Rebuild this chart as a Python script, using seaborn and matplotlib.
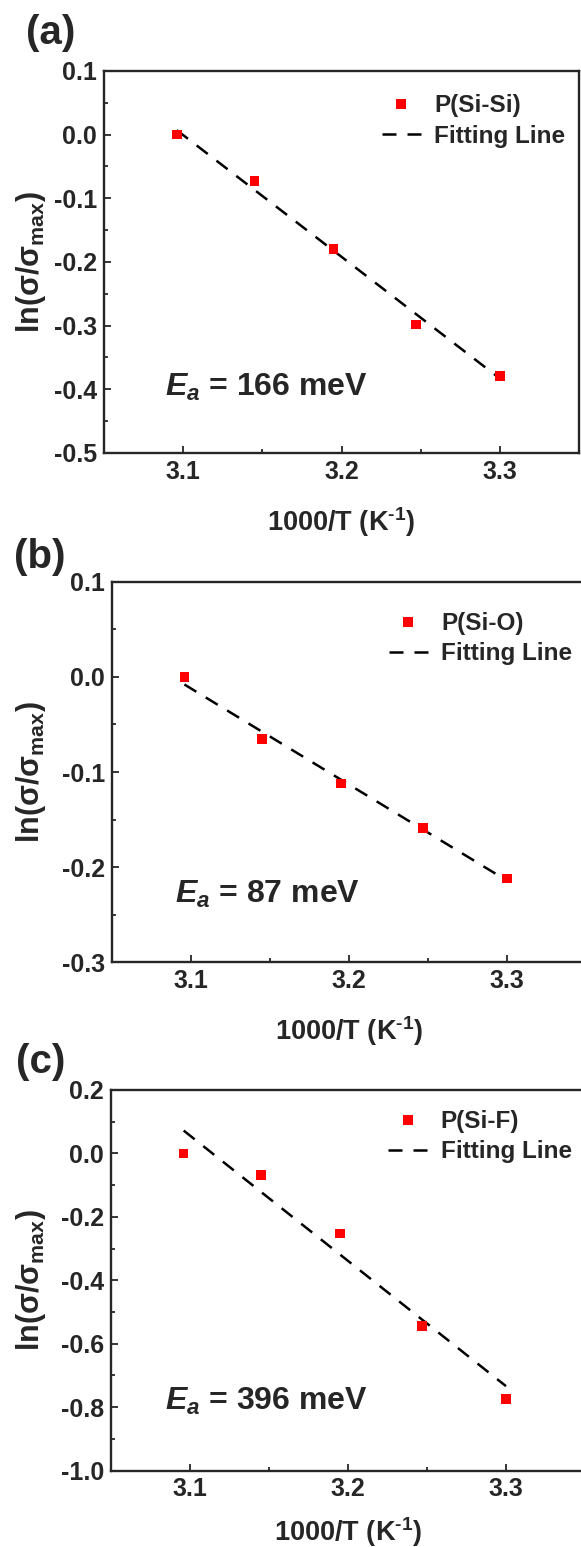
import numpy as np
import pandas as pd
import matplotlib
matplotlib.use('Agg')
import matplotlib.pyplot as plt
import seaborn as sns
from matplotlib.ticker import MultipleLocator, FormatStrFormatter
from matplotlib.lines import Line2D

# ---- data ----
inv_T = [3.096, 3.145, 3.195, 3.247, 3.300]
ln_sisi = [0.000, -0.073, -0.180, -0.298, -0.379]
ln_sio = [0.000, -0.065, -0.112, -0.159, -0.212]
ln_sif = [0.000, -0.069, -0.253, -0.544, -0.774]

fit_x = [3.096, 3.300]
fit_sisi = [0.007, -0.383]
fit_sio = [-0.008, -0.214]
fit_sif = [0.072, -0.734]

labels = ["P(Si-Si)", "P(Si-O)", "P(Si-F)"]
ea_texts = ["166", "87", "396"]
panel_tags = ["(a)", "(b)", "(c)"]
x_ticks = [3.1, 3.2, 3.3]

sns.set_style('ticks')
plt.rcParams.update({
    'font.family': ['Liberation Sans', 'DejaVu Sans'],
    'font.weight': 'bold',
    'axes.labelweight': 'bold',
    'axes.unicode_minus': False,
    'mathtext.fontset': 'custom',
    'mathtext.rm': 'Liberation Sans:bold',
    'mathtext.it': 'Liberation Sans:italic:bold',
    'mathtext.bf': 'Liberation Sans:bold',
    'axes.linewidth': 1.5,
    'xtick.direction': 'in',
    'ytick.direction': 'in',
})

W, H = 581, 1547
fig = plt.figure(figsize=(W / 100, H / 100), dpi=100)

DASH = (0, (5.6, 4.4))

# pixel boxes: left, right, top, bottom
boxes = [(104, 579, 71, 453), (111.7, 585.7, 581.7, 962.3), (111, 585, 1090, 1470.5)]
ylims = [(-0.5, 0.1), (-0.3, 0.1), (-1.0, 0.2)]
ymajor = [0.1, 0.1, 0.2]
series = [ln_sisi, ln_sio, ln_sif]
fits = [fit_sisi, fit_sio, fit_sif]
tag_pos = [(26, 44), (14, 568), (16, 1073)]
ea_pos = [(0.128, 0.172), (0.134, 0.178), (0.114, 0.181)]
leg_pos = [(0.585, 0.939), (0.585, 0.920), (0.585, 0.947)]
ylab_x = [-0.118, -0.134, -0.132]
xlab_y = [-0.136, -0.136, -0.118]

for i in range(3):
    l, r, t, b = boxes[i]
    ax = fig.add_axes([l / W, 1 - b / H, (r - l) / W, (b - t) / H])
    df = pd.DataFrame({'x': inv_T, 'y': series[i]})
    sns.scatterplot(data=df, x='x', y='y', ax=ax, marker='s', s=48, color='red',
                    edgecolor='none', linewidth=0, zorder=3)
    fdf = pd.DataFrame({'x': fit_x, 'y': fits[i]})
    sns.lineplot(data=fdf, x='x', y='y', ax=ax, color='black',
                 linestyle=DASH, linewidth=1.8, zorder=2)
    ax.set_xlim(3.05, 3.35)
    ax.set_ylim(*ylims[i])
    ax.set_xticks(x_ticks)
    ax.xaxis.set_minor_locator(MultipleLocator(0.05))
    ax.yaxis.set_major_locator(MultipleLocator(ymajor[i]))
    ax.yaxis.set_minor_locator(MultipleLocator(ymajor[i] / 2))
    ax.yaxis.set_major_formatter(FormatStrFormatter('%.1f'))
    ax.xaxis.set_major_formatter(FormatStrFormatter('%.1f'))
    ax.tick_params(which='major', length=5, width=1.3, labelsize=18, pad=5,
                   top=False, right=False)
    ax.tick_params(which='minor', length=3, width=1.3, top=False, right=False)
    for lab in ax.get_xticklabels() + ax.get_yticklabels():
        lab.set_fontweight('bold')
    for s in ax.spines.values():
        s.set_linewidth(1.7)
    ax.set_xlabel('1000/T (K$^{\\mathrm{\u2010}1}$)', fontsize=19.5, fontweight='bold')
    ax.set_ylabel('ln(σ/σ$_{\\mathrm{max}}$)', fontsize=22, fontweight='bold')
    ax.xaxis.set_label_coords(0.5, xlab_y[i])
    ax.yaxis.set_label_coords(ylab_x[i], 0.5)

    ax.text(ea_pos[i][0], ea_pos[i][1], '$E_a$ = ' + ea_texts[i] + ' meV',
            transform=ax.transAxes, fontsize=23, fontweight='bold',
            ha='left', va='center')

    handles = [Line2D([], [], marker='s', color='red', linestyle='none', markersize=6.8,
                      markeredgewidth=0),
               Line2D([], [], color='black', linestyle=DASH, linewidth=1.8)]
    ax.legend(handles, [labels[i], 'Fitting Line'], loc='upper left',
              bbox_to_anchor=leg_pos[i], frameon=False, borderpad=0,
              borderaxespad=0, handlelength=1.6, handletextpad=0.55,
              labelspacing=0.3, prop={'size': 17.5, 'weight': 'bold'})

    fig.text(tag_pos[i][0] / W, 1 - tag_pos[i][1] / H, panel_tags[i], fontsize=29,
             fontweight='bold', ha='left', va='baseline')

fig.savefig('out.png', dpi=100)
